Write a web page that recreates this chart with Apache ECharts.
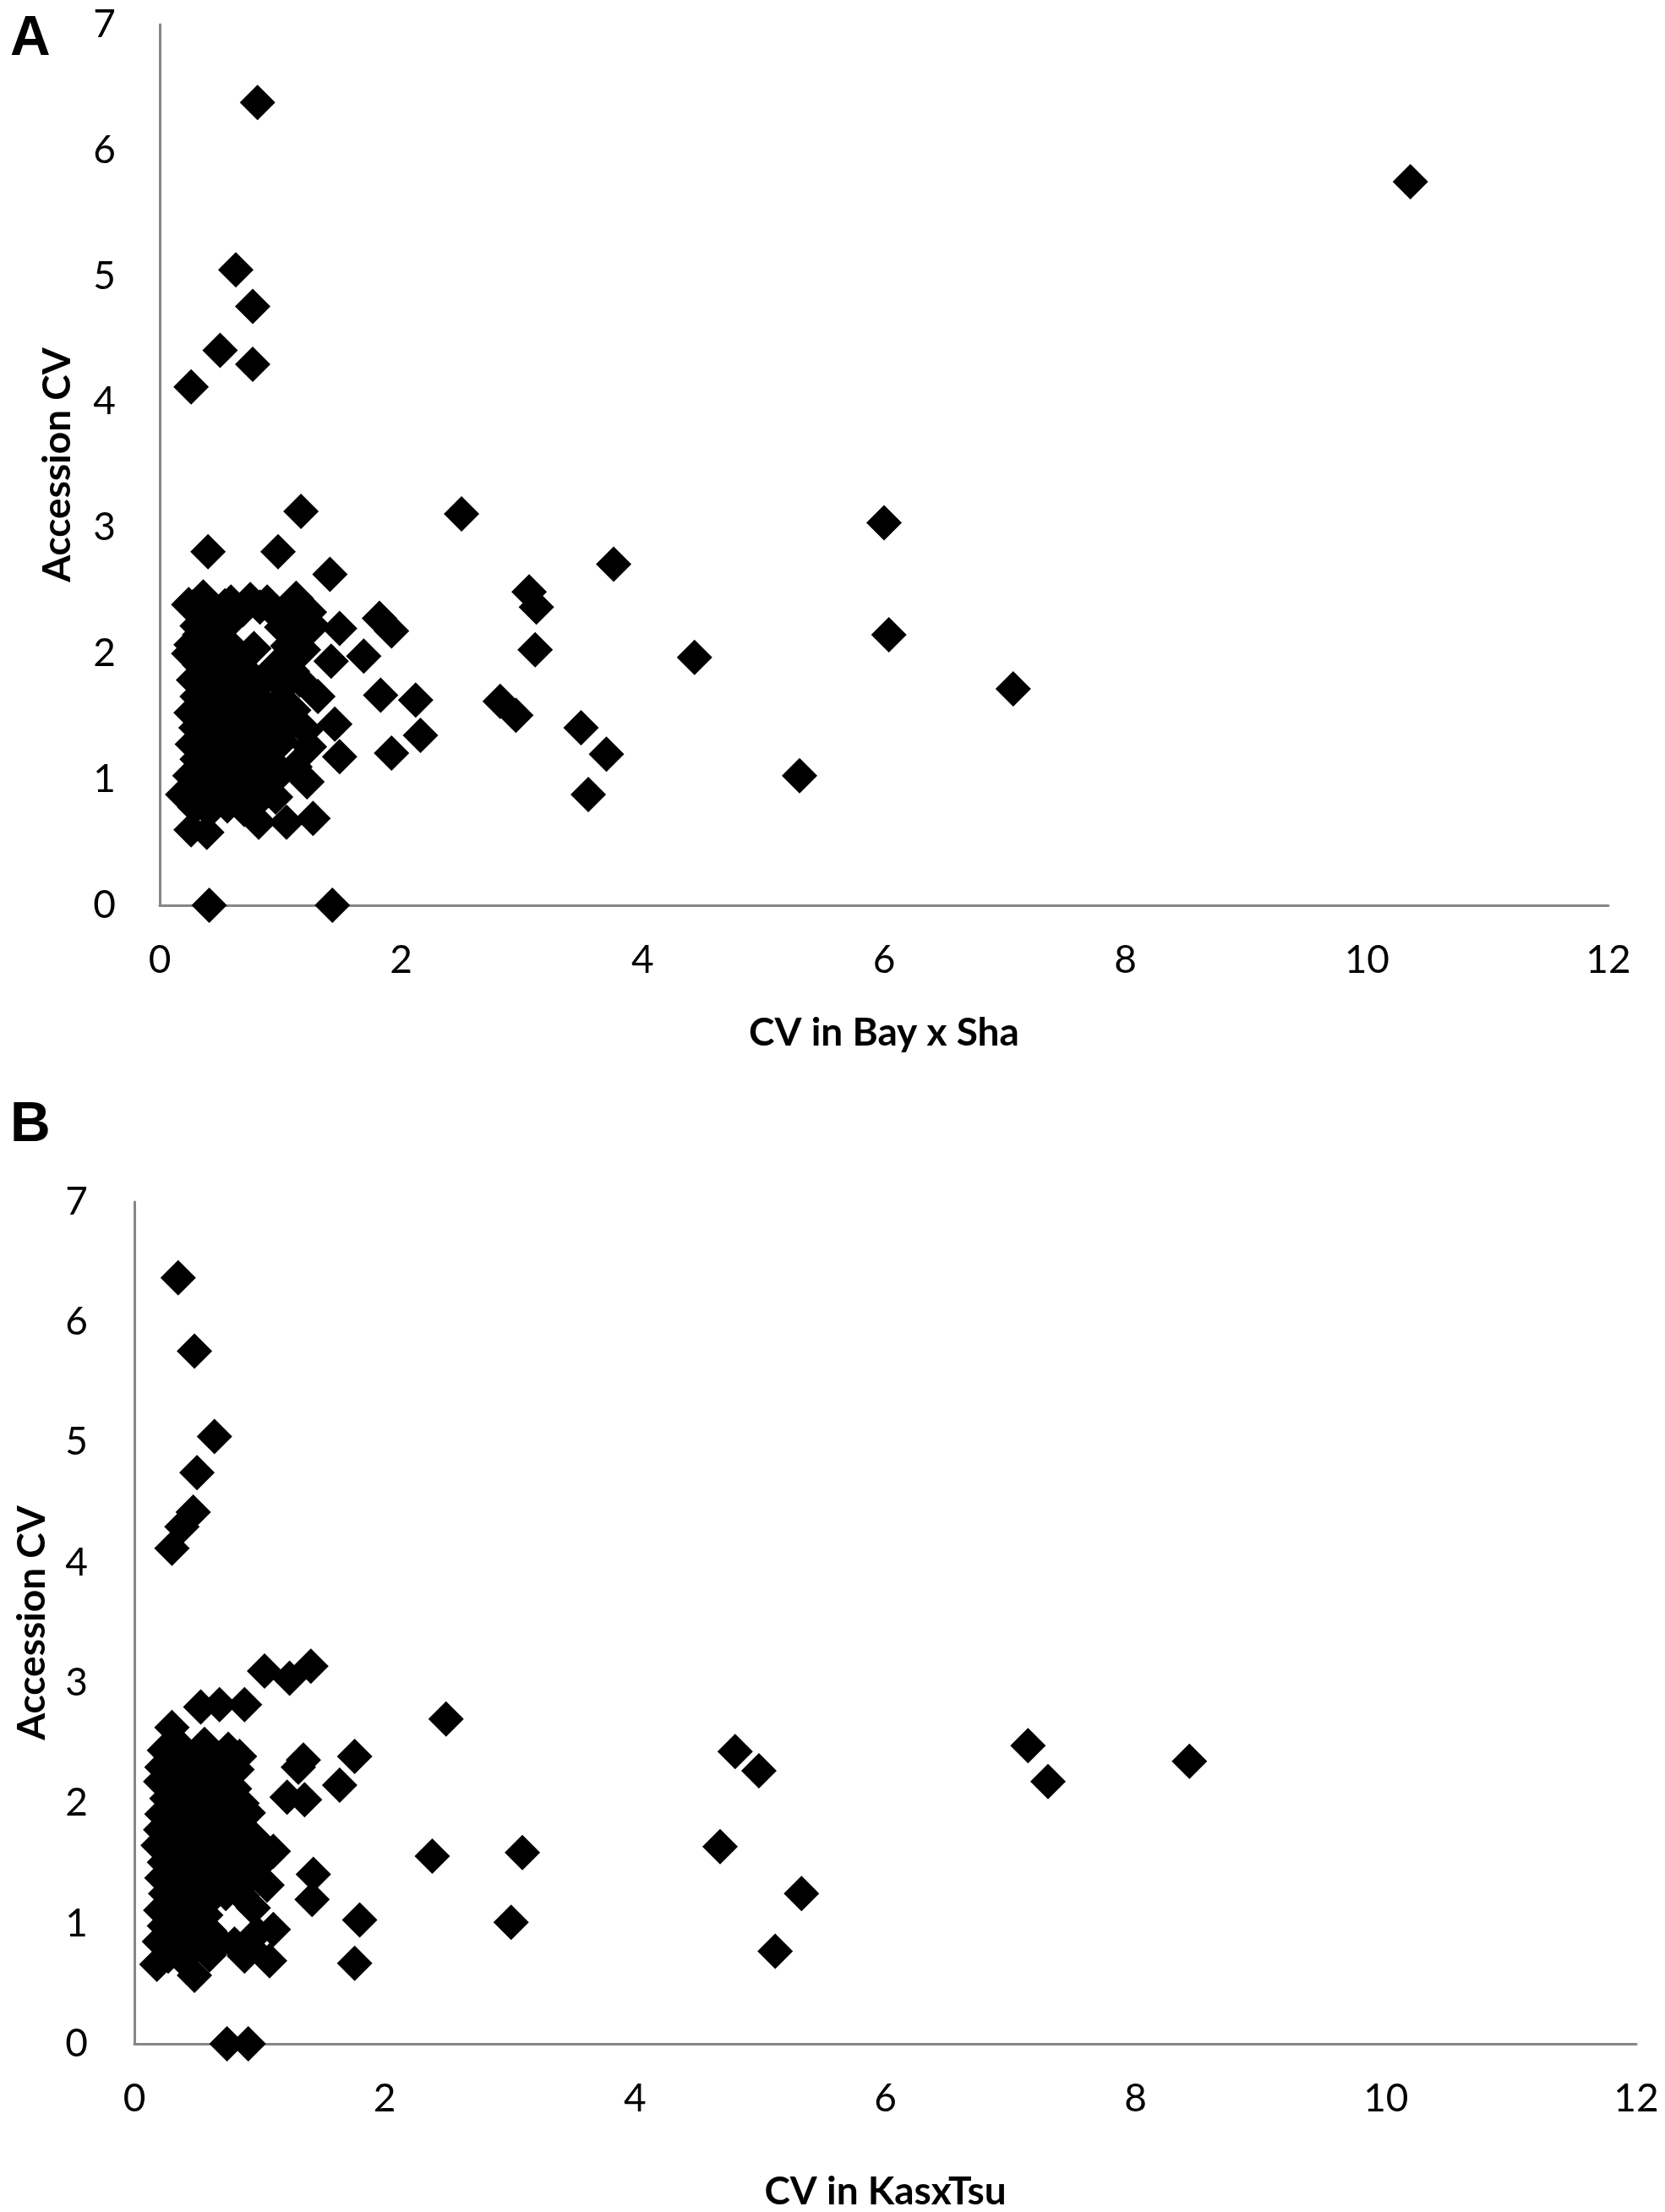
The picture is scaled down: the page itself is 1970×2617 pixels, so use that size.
<!DOCTYPE html>
<html>
<head>
<meta charset="utf-8">
<style>
html,body{margin:0;padding:0;background:#fff;}
#chart{width:1970px;height:2617px;}
</style>
<script src="https://cdn.jsdelivr.net/npm/echarts@6/dist/echarts.min.js"></script>
</head>
<body>
<div id="chart"></div>
<script>
// ---- Data ----
var xTicksLabel = ['0','2','4','6','8','10','12'];
var yTicksLabel = ['0','1','2','3','4','5','6','7'];
var panelLabels = ['A','B'];
var xTitles = ['CV in Bay x Sha','CV in KasxTsu'];
var yTitle = 'Accession CV';

// Panel A: CV in Bay x Sha vs Accession CV
var pointsA_outliers = [
  [0.81,6.38],[10.36,5.75],[0.63,5.05],[0.77,4.76],[0.50,4.41],[0.77,4.30],[0.26,4.12],
  [1.17,3.13],[2.50,3.11],[6.00,3.04],[0.40,2.81],[0.98,2.81],[1.41,2.63],[3.76,2.71],
  [3.06,2.49],[3.12,2.37],[6.04,2.15],[4.43,1.97],[3.11,2.03],[7.07,1.72],[2.82,1.62],
  [2.95,1.51],[3.49,1.41],[3.70,1.20],[3.55,0.88],[5.30,1.03],[0.41,0],[1.43,0],
  [1.82,2.28],[1.92,2.18],[1.49,2.20],[1.69,1.98],[1.42,1.94],[1.83,1.67],[2.12,1.63],
  [2.16,1.35],[1.92,1.21],[1.49,1.18],[1.45,1.44],[1.22,0.98],[1.27,0.69],[1.05,0.66],
  [0.82,0.66],[0.39,0.58],[0.26,0.60],[0.19,0.88],[1.24,1.26],[0.78,2.04],
  [0.24,2.39],[0.36,2.45],[0.59,2.41],[0.75,2.43],[0.89,2.41],[1.13,2.44],[1.24,2.33],
  [0.24,2.00],[0.33,2.15],[1.31,1.66]
];
var pointsA_cluster = [
  [0.27,2.37],[0.41,2.33],[0.54,2.38],[0.69,2.35],[0.83,2.37],[0.96,2.32],[1.07,2.38],[1.19,2.30],
  [0.31,2.22],[0.44,2.18],[0.57,2.24],[1.01,2.21],[1.14,2.17],[1.27,2.22],
  [0.26,2.07],[0.39,2.04],[0.52,2.09],[0.63,2.02],[1.06,2.06],[1.19,2.03],
  [0.33,1.91],[0.46,1.88],[0.58,1.93],[0.71,1.87],[0.96,1.90],[1.10,1.86],
  [0.28,1.79],[0.41,1.76],[0.53,1.80],[0.66,1.77],[0.86,1.78],[1.03,1.74],[1.16,1.79],
  [0.31,1.66],[0.43,1.63],[0.56,1.67],[0.69,1.62],[0.79,1.66],[1.01,1.64],
  [0.26,1.53],[0.38,1.50],[0.51,1.54],[0.63,1.49],[0.76,1.53],[0.89,1.51],[1.11,1.55],
  [0.30,1.41],[0.44,1.38],[0.56,1.42],[0.69,1.37],[0.81,1.40],[0.95,1.36],[1.06,1.42],[1.21,1.39],
  [0.27,1.28],[0.40,1.25],[0.53,1.29],[0.65,1.24],[0.78,1.28],[0.90,1.26],[1.01,1.30],
  [0.31,1.16],[0.43,1.13],[0.55,1.17],[0.68,1.12],[0.80,1.15],[0.93,1.14],[1.12,1.10],
  [0.25,1.03],[0.38,1.00],[0.50,1.04],[0.62,0.99],[0.75,1.03],[0.88,1.01],[1.00,1.05],
  [0.30,0.91],[0.45,0.88],[0.58,0.92],[0.71,0.87],[0.85,0.90],[0.96,0.86],
  [0.29,0.78],[0.41,0.75],[0.56,0.79],[0.70,0.76],[0.78,0.80]
];

// Panel B: CV in KasxTsu vs Accession CV
var pointsB_outliers = [
  [0.35,6.37],[0.48,5.76],[0.64,5.05],[0.50,4.75],[0.47,4.42],[0.38,4.30],[0.30,4.12],
  [1.04,3.10],[1.24,3.04],[1.41,3.14],[0.53,2.80],[0.68,2.82],[0.88,2.82],[0.30,2.63],
  [2.49,2.70],[4.80,2.43],[4.99,2.27],[7.14,2.48],[7.30,2.18],[8.43,2.35],[4.68,1.64],
  [5.33,1.25],[5.12,0.77],[2.38,1.56],[3.10,1.59],[3.01,1.01],
  [1.80,1.03],[1.76,0.67],[1.43,1.41],[1.42,1.20],[1.35,2.36],[1.31,2.30],[1.76,2.39],
  [1.64,2.15],[1.22,2.05],[1.36,2.03],[0.74,0],[0.91,0],
  [1.11,1.60],[1.06,1.32],[1.11,0.95],[1.08,0.69],[0.88,0.73],[0.48,0.57],[0.18,0.66],
  [0.91,1.92],[0.84,2.39],[0.82,2.28],[0.56,2.49]
];
var pointsB_cluster = [
  [0.24,2.44],[0.37,2.47],[0.62,2.42],[0.75,2.45],
  [0.22,2.30],[0.34,2.27],[0.46,2.32],[0.58,2.29],[0.70,2.33],
  [0.21,2.18],[0.33,2.15],[0.45,2.19],[0.57,2.14],[0.69,2.18],[0.80,2.12],
  [0.26,2.04],[0.38,2.01],[0.50,2.06],[0.62,2.02],[0.74,2.05],[0.86,2.00],
  [0.22,1.91],[0.35,1.88],[0.47,1.92],[0.59,1.87],[0.71,1.90],[0.80,1.86],
  [0.21,1.78],[0.33,1.75],[0.45,1.79],[0.57,1.74],[0.69,1.78],[0.82,1.76],[0.95,1.72],
  [0.19,1.65],[0.31,1.62],[0.43,1.66],[0.55,1.61],[0.67,1.65],[0.79,1.63],[0.98,1.60],
  [0.24,1.51],[0.36,1.48],[0.48,1.52],[0.60,1.47],[0.72,1.51],[0.85,1.49],[0.97,1.46],
  [0.22,1.38],[0.34,1.35],[0.46,1.39],[0.58,1.34],[0.70,1.38],[0.83,1.36],[0.94,1.40],
  [0.25,1.25],[0.37,1.22],[0.49,1.26],[0.61,1.21],[0.73,1.25],[0.86,1.23],
  [0.21,1.11],[0.33,1.08],[0.45,1.12],[0.57,1.07],[0.95,1.13],
  [0.24,0.98],[0.36,0.95],[0.48,0.99],[0.60,0.94],[0.98,0.92],
  [0.20,0.85],[0.32,0.82],[0.44,0.86],[0.56,0.81],[0.68,0.85],[0.80,0.83],[0.93,0.80],
  [0.27,0.73],[0.39,0.70],[0.60,0.74]
];

// ---- Chart ----
var chart = echarts.init(document.getElementById('chart'), null, {renderer:'canvas'});
var FONT = 'Lato, "Open Sans", sans-serif';
var axisLineStyle = {color:'#868686', width:3};

function xAx(idx, gap){
  return {
    gridIndex: idx, type:'value', min:0, max:12, interval:2,
    name: xTitles[idx], nameLocation:'middle', nameGap: gap,
    nameTextStyle:{fontFamily:FONT, fontWeight:'bold', fontSize:46, color:'#000'},
    axisLine:{show:true, onZero:false, lineStyle:axisLineStyle},
    axisTick:{show:false}, splitLine:{show:false},
    axisLabel:{fontFamily:FONT, fontSize:46, color:'#000', margin:42,
      formatter:function(v){ return xTicksLabel[Math.round(v/2)]; }}
  };
}
function yAx(idx){
  return {
    gridIndex: idx, type:'value', min:0, max:7, interval:1,
    name: yTitle, nameLocation:'middle', nameGap:98, nameRotate:90,
    nameTextStyle:{fontFamily:FONT, fontWeight:'bold', fontSize:46, color:'#000'},
    axisLine:{show:true, onZero:false, lineStyle:axisLineStyle},
    axisTick:{show:false}, splitLine:{show:false},
    axisLabel:{fontFamily:FONT, fontSize:46, color:'#000', margin:idx===0?52:55,
      formatter:function(v){ return yTicksLabel[Math.round(v)]; }}
  };
}
function sc(idx, data){
  return {
    type:'scatter', xAxisIndex:idx, yAxisIndex:idx, data:data,
    symbol:'diamond', symbolSize:42, silent:true, animation:false,
    itemStyle:{color:'#000', opacity:1}
  };
}

chart.setOption({
  backgroundColor:'#fff',
  animation:false,
  grid:[
    {left:189, top:29, width:1714, height:1042},
    {left:159, top:1422, width:1777, height:1000}
  ],
  xAxis:[xAx(0,128), xAx(1,152)],
  yAxis:[yAx(0), yAx(1)],
  series:[
    sc(0, pointsA_cluster.concat(pointsA_outliers)),
    sc(1, pointsB_cluster.concat(pointsB_outliers))
  ],
  graphic:[
    {type:'text', left:12, top:14, style:{text:panelLabels[0], font:'bold 66px "Liberation Sans", Arial, sans-serif', fill:'#000'}},
    {type:'text', left:12, top:1299, style:{text:panelLabels[1], font:'bold 66px "Liberation Sans", Arial, sans-serif', fill:'#000'}}
  ]
});
</script>
</body>
</html>
